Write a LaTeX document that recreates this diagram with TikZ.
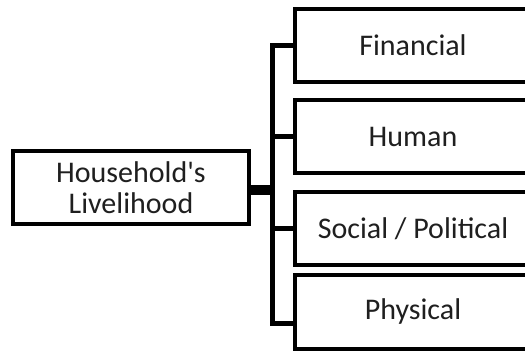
\documentclass[tikz,border=0pt]{standalone}
\usepackage{fontspec}
\newfontfamily\boxfont{Carlito}
\begin{document}
\begin{tikzpicture}[x=1pt,y=1pt,
  box/.style={draw=black,line width=4pt,fill=white,minimum width=236pt,minimum height=73pt,inner sep=0pt,align=center,text=black!88,font=\boxfont\fontsize{30pt}{31.5pt}\selectfont},
  link/.style={draw=black,line width=5pt},
  thick link/.style={draw=black,line width=10pt}]
\useasboundingbox (0,0) rectangle (525,351);
\node[box] (hh) at (131,163.5) {Household's\\Livelihood};
\node[box] (fin) at (413,305.5) {Financial};
\node[box] (hum) at (413,214.5) {Human};
\node[box] (soc) at (413,122.5) {Social / Political};
\node[box] (phy) at (413,39) {Physical};
\coordinate (top) at (272,305);
\coordinate (bot) at (272,28);
\draw[link,line join=miter] ([yshift=-0.5pt]fin.west) -- (top) -- (bot) -- ([yshift=-11pt]phy.west);
\draw[link] (hum.west) -- (hum.west -| top);
\draw[link] (soc.west) -- (soc.west -| top);
\draw[thick link] ([yshift=-2.5pt]hh.east) -- ([yshift=-2.5pt]hh.east -| top);
\end{tikzpicture}
\end{document}
